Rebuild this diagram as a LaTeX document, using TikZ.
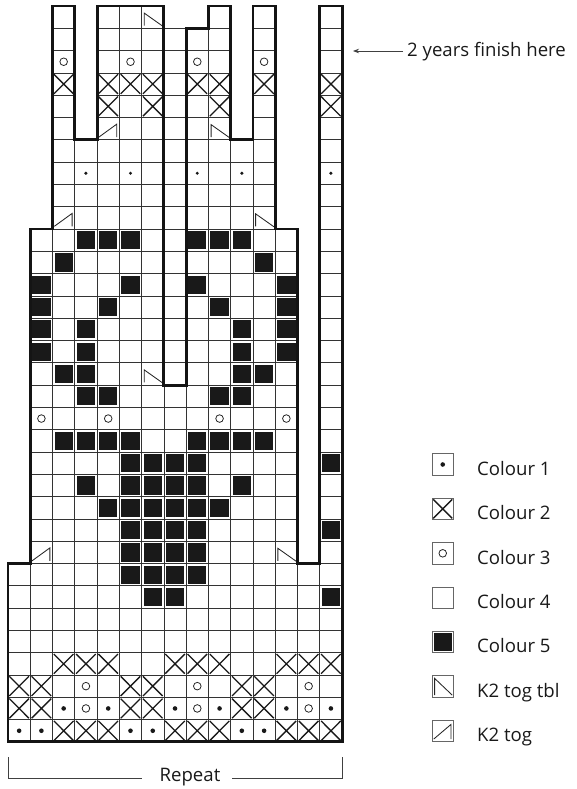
\documentclass[tikz,border=0pt]{standalone}
\usepackage{fontspec}
\setmainfont{Open Sans}
\usetikzlibrary{arrows.meta}
\newcommand\symdot[2]{\fill[black!90] (#1+0.5,#2+0.5) circle[radius=\dotr];}
\newcommand\symring[2]{\draw[black!85,line width=0.8pt] (#1+0.5,#2+0.5) circle[radius=3.8pt];}
\newcommand\symx[2]{\draw[xmark] (#1+0.06,#2+0.06) -- (#1+0.94,#2+0.94) (#1+0.94,#2+0.06) -- (#1+0.06,#2+0.94);}
\newcommand\symblk[2]{\fill[black!90] (#1+0.09,#2+0.09) rectangle (#1+0.91,#2+0.91);}
\newcommand\symtbl[2]{\draw[sym] (#1+0.12,#2+0.88) -- (#1+0.12,#2+0.32) -- (#1+0.94,#2+0.9);}
\newcommand\symktog[2]{\draw[sym] (#1+0.08,#2+0.88) -- (#1+0.88,#2+0.3) -- (#1+0.88,#2+0.88);}
\def\dotr{2.2pt}
\begin{document}
\begin{tikzpicture}[x=1pt,y=-1pt,
  gridline/.style={draw=black!80,line width=0.7pt},
  outline/.style={draw=black!92,line width=2.9pt,line join=miter},
  xmark/.style={draw=black!90,line width=1.3pt},
  sym/.style={draw=black!85,line width=0.85pt},
  lbl/.style={anchor=base west,inner sep=0pt,font=\fontsize{18.6}{22}\selectfont,text=black!90},
  icon/.style={draw=black!60,line width=0.8pt},
  bracket/.style={draw=black!75,line width=0.8pt}]
\useasboundingbox (0,0) rectangle (576,789);
% ---------------- chart ----------------
\begin{scope}[shift={(8pt,-6pt)},x=22.27pt,y=-22.3pt]
  % grid cells
  \foreach \c in {2,4,5,6,9,11,14} {\draw[gridline] (\c,0) rectangle ++(1,1);}
  \foreach \t in {1,...,5} {\foreach \c in {2,4,5,6,8,9,11,14} {\draw[gridline] (\c,\t) rectangle ++(1,1);}}
  \foreach \t in {6,...,9} {\foreach \c in {2,3,4,5,6,8,9,10,11,14} {\draw[gridline] (\c,\t) rectangle ++(1,1);}}
  \foreach \t in {10,...,16} {\foreach \c in {1,2,3,4,5,6,8,9,10,11,12,14} {\draw[gridline] (\c,\t) rectangle ++(1,1);}}
  \foreach \t in {17,...,24} {\foreach \c in {1,...,12,14} {\draw[gridline] (\c,\t) rectangle ++(1,1);}}
  \foreach \t in {25,...,32} {\foreach \c in {0,...,14} {\draw[gridline] (\c,\t) rectangle ++(1,1);}}
  \foreach \j in {1,...,16} {\draw[gridline] (7,\j) -- (8,\j);}
  % colour 5 (black)
  \foreach \t/\cs in {10/{3,4,5,8,9,10}, 11/{2,11}, 12/{1,5,8,12}, 13/{1,4,9,12},
      14/{1,3,10,12}, 15/{1,3,10,12}, 16/{2,3,10,11}, 17/{3,4,9,10},
      19/{2,3,4,5,8,9,10,11}, 20/{5,6,7,8,14}, 21/{3,5,6,7,8,10}, 22/{4,5,6,7,8,9},
      23/{5,6,7,8,14}, 24/{5,6,7,8}, 25/{5,6,7,8}, 26/{6,7,14}}
    {\foreach \c in \cs {\symblk{\c}{\t}}}
  % colour 1 (dots)
  \def\dotr{1.7pt}
  \foreach \c in {3,5,8,10,14} {\symdot{\c}{7}}
  \def\dotr{2.3pt}
  \foreach \t/\cs in {31/{2,4,7,9,12,14}, 32/{0,1,5,6,10,11}}
    {\foreach \c in \cs {\symdot{\c}{\t}}}
  % colour 3 (rings)
  \foreach \t/\cs in {2/{2,5,8,11}, 18/{1,4,9,12}, 30/{3,8,13}, 31/{3,8,13}}
    {\foreach \c in \cs {\symring{\c}{\t}}}
  % colour 2 (crosses)
  \foreach \t/\cs in {3/{2,4,5,6,8,9,11,14}, 4/{4,6,9,14}, 29/{2,3,4,7,8,9,12,13,14},
      30/{0,1,5,6,10,11}, 31/{0,1,5,6,10,11}, 32/{2,3,4,7,8,9,12,13,14}}
    {\foreach \c in \cs {\symx{\c}{\t}}}
  % decreases
  \foreach \c/\t in {6/0, 9/5, 11/9, 6/16, 12/24} {\symtbl{\c}{\t}}
  \foreach \c/\t in {4/5, 2/9, 1/24} {\symktog{\c}{\t}}
  % outline
  \draw[outline] (0,33) -- (0,25) -- (1,25) -- (1,10) -- (2,10) -- (2,0) -- (3,0) -- (3,6)
     -- (4,6) -- (4,0) -- (7,0) -- (7,17) -- (8,17) -- (8,1) -- (9,1) -- (9,0) -- (10,0)
     -- (10,6) -- (11,6) -- (11,0) -- (12,0) -- (12,10) -- (13,10) -- (13,25) -- (14,25)
     -- (14,0) -- (15,0) -- (15,33) -- cycle;
\end{scope}
% ---------------- finish marker ----------------
\node[lbl] (finish) at (407,56.7) {2 years finish here};
\coordinate (arrS) at (403,51);
\coordinate (arrT) at (353,51);
\draw[bracket,-{Stealth[length=6pt,width=4.5pt]}] (arrS) -- (arrT);
% ---------------- repeat bracket ----------------
\node[anchor=base,inner sep=0pt,font=\fontsize{18.6}{22}\selectfont,text=black!90] (rep) at (190,781.7) {Repeat};
\coordinate (rA) at (8,757);
\coordinate (rB) at (8,778.3);
\coordinate (rC) at (142,778.3);
\coordinate (rD) at (232,778.3);
\coordinate (rE) at (342,778.3);
\coordinate (rF) at (342,757);
\draw[bracket] (rA) -- (rB) -- (rC);
\draw[bracket] (rD) -- (rE) -- (rF);
% ---------------- legend ----------------
\foreach \i/\cy/\txt in {1/464.5/Colour 1, 2/508.9/Colour 2, 3/553.3/Colour 3, 4/597.7/Colour 4,
    5/642.1/Colour 5, 6/686.5/K2 tog tbl, 7/730.9/K2 tog}
  {\node[lbl] (leg\i) at (477,\cy+10.7) {\txt};}
\foreach \i/\cy in {1/464.5, 2/508.9, 3/553.3, 4/597.7, 5/642.1, 6/686.5, 7/730.9}
  {\draw[icon] (432,\cy-10.75) rectangle (453.5,\cy+10.75);}
\def\dotr{2.3pt}
\begin{scope}[shift={(432pt,-453.75pt)},x=21.5pt,y=-21.5pt]\symdot{0}{0}\end{scope}
\begin{scope}[shift={(432pt,-498.15pt)},x=21.5pt,y=-21.5pt]\symx{0}{0}\end{scope}
\begin{scope}[shift={(432pt,-542.55pt)},x=21.5pt,y=-21.5pt]\symring{0}{0}\end{scope}
\begin{scope}[shift={(432pt,-631.35pt)},x=21.5pt,y=-21.5pt]\fill[black!90] (0.08,0.08) rectangle (0.92,0.92);\end{scope}
\begin{scope}[shift={(432pt,-675.75pt)},x=21.5pt,y=-21.5pt]\draw[sym] (0.12,0.9) -- (0.12,0.12) -- (0.94,0.9);\end{scope}
\begin{scope}[shift={(432pt,-720.15pt)},x=21.5pt,y=-21.5pt]\draw[sym] (0.08,0.88) -- (0.88,0.2) -- (0.88,0.88);\end{scope}
\end{tikzpicture}
\end{document}
